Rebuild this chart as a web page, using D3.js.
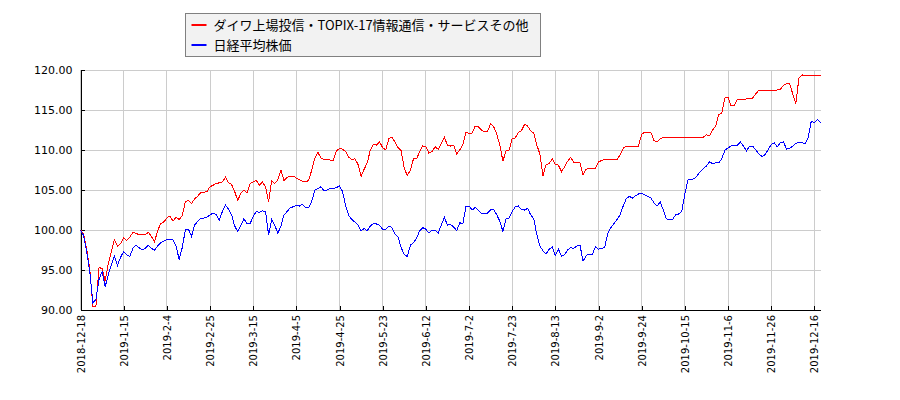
<!DOCTYPE html>
<html>
<head>
  <meta charset='utf-8'>
  <title>ダイワ上場投信・TOPIX-17情報通信・サービスその他 vs 日経平均株価</title>
  <script src='https://cdn.jsdelivr.net/npm/d3@7/dist/d3.min.js'></script>
  <style>
    body { margin: 0; background: #ffffff; }
    .tick text { font-family: 'DejaVu Sans', sans-serif; fill: #000000; }
  </style>
</head>
<body>
  <div id='container' style='width: 900px; height: 400px'>
    <svg id='plot-area'></svg>
  </div>
  <script>
    // series names
    const seriesNames = ['ダイワ上場投信・TOPIX-17情報通信・サービスその他', '日経平均株価'];
    const seriesColors = ['#ff0000', '#0000ff'];

    // x tick labels, one every 14 trading days
    const tickLabels = ['2018-12-18', '2019-1-15', '2019-2-4', '2019-2-25', '2019-3-15',
        '2019-4-5', '2019-4-25', '2019-5-23', '2019-6-12', '2019-7-2', '2019-7-23',
        '2019-8-13', '2019-9-2', '2019-9-24', '2019-10-15', '2019-11-6', '2019-11-26',
        '2019-12-16'];
    const tickStep = 14;

    const yTicks = [90, 95, 100, 105, 110, 115, 120];

    // ETF, relative to first day = 100
    const etfValues = [
        100, 99.5, 97.6, 95.2, 90.5, 90.5, 95.3, 95.2, 93.6, 95.8,
        97.3, 98.8, 98.0, 98.3, 99.0, 98.7, 99.1, 99.7, 99.6, 99.4,
        99.4, 99.4, 99.7, 99.2, 98.5, 99.9, 100.8, 101.0, 101.5, 101.75,
        101.1, 101.6, 101.3, 101.8, 103.5, 103.7, 103.3, 103.9, 104.2, 104.7,
        104.7, 104.8, 105.4, 105.6, 105.8, 105.9, 106.0, 106.6, 105.9, 105.7,
        104.8, 103.7, 104.6, 105.0, 104.6, 105.8, 106.0, 106.2, 105.6, 106.0,
        105.4, 103.5, 106.2, 105.8, 106.25, 107.5, 106.2, 106.6, 106.7, 106.75,
        106.5, 106.3, 106.1, 106.0, 106.2, 107.5, 109.0, 109.7, 109.0, 108.8,
        108.8, 108.75, 108.75, 109.9, 110.2, 110.1, 109.8, 109.1, 108.8, 108.9,
        108.2, 106.7, 107.6, 108.4, 110.0, 110.7, 110.6, 111.0, 110.3, 110.0,
        111.4, 111.6, 111.0, 110.3, 109.9, 107.7, 106.8, 107.5, 108.9, 108.9,
        109.8, 110.5, 110.4, 109.6, 109.8, 110.4, 110.1, 110.8, 111.6, 110.6,
        110.5, 110.6, 109.5, 110.0, 110.7, 112.2, 112.1, 112.1, 113.0, 112.9,
        112.5, 112.3, 112.3, 113.3, 112.9, 112.0, 110.6, 108.6, 109.9, 110.0,
        111.4, 111.5, 112.2, 112.4, 113.2, 113.0, 112.4, 112.1, 110.6, 109.5,
        106.8, 108.2, 108.3, 108.9, 108.2, 108.1, 107.3, 107.9, 108.6, 109.1,
        108.4, 108.4, 108.4, 106.9, 107.6, 107.7, 107.7, 107.7, 108.5, 108.7,
        108.8, 108.8, 108.8, 108.8, 108.8, 109.4, 110.2, 110.5, 110.5, 110.5,
        110.5, 110.5, 112.0, 112.2, 112.2, 112.2, 111.2, 111.0, 111.4, 111.6,
        111.6, 111.6, 111.6, 111.6, 111.6, 111.6, 111.6, 111.6, 111.6, 111.6,
        111.6, 111.6, 111.6, 111.9, 111.8, 112.5, 113.0, 114.4, 114.6, 116.5,
        116.6, 115.5, 115.6, 116.3, 116.3, 116.3, 116.4, 116.5, 116.5, 117.0,
        117.5, 117.5, 117.5, 117.5, 117.5, 117.5, 117.5, 117.6, 118.1, 118.3,
        118.3, 117.0, 115.8, 119.0, 119.4, 119.25, 119.3, 119.3, 119.3, 119.3,
        119.3
    ];

    // Nikkei 225, relative to first day = 100
    const nikkeiValues = [
        100, 99.3, 97.3, 94.8, 90.9, 91.3, 93.8, 94.8, 92.9, 94.4,
        95.6, 96.7, 95.6, 96.6, 97.3, 96.9, 96.7, 97.7, 98.1, 97.8,
        97.5, 97.7, 98.1, 97.7, 97.5, 98.0, 98.4, 98.6, 98.8, 98.8,
        98.75, 98.0, 96.3, 97.8, 100.0, 100.1, 99.2, 100.6, 101.1, 101.5,
        101.5, 101.6, 101.9, 102.1, 101.9, 101.25, 102.3, 103.1, 102.6, 101.9,
        100.5, 99.8, 100.6, 101.4, 100.8, 100.8, 101.7, 102.3, 102.2, 102.4,
        102.3, 99.4, 101.3, 100.6, 99.6, 100.5, 101.9, 102.3, 102.8, 102.9,
        103.1, 103.0, 103.2, 102.8, 102.8, 103.6, 105.0, 105.2, 105.4, 104.9,
        105.0, 105.25, 105.2, 105.3, 105.5, 104.8, 103.0, 101.8, 101.3, 101.0,
        100.6, 99.9, 100.2, 99.9, 100.5, 100.8, 100.75, 100.6, 100.1, 100.1,
        100.5, 100.3, 99.5, 99.1, 97.8, 96.9, 96.7, 98.1, 98.4, 99.0,
        99.9, 100.3, 100.1, 99.6, 100.0, 100.0, 99.6, 100.6, 101.6, 100.6,
        100.7, 100.4, 99.9, 100.9, 100.8, 102.9, 103.0, 102.5, 102.8, 102.5,
        102.1, 102.0, 102.1, 102.5, 102.6, 101.9, 101.1, 99.8, 101.4, 101.5,
        102.3, 102.9, 103.0, 102.6, 102.5, 102.7, 101.9, 101.4, 99.4, 98.0,
        97.4, 97.0, 97.6, 97.9, 96.8, 97.6, 96.7, 96.9, 97.5, 97.8,
        97.7, 98.0, 98.1, 96.1, 96.8, 97.0, 96.9, 97.9, 97.6, 97.7,
        97.8, 99.6, 100.3, 100.8, 101.3, 101.9, 103.0, 103.9, 104.2, 104.0,
        104.3, 104.5, 104.6, 104.4, 104.2, 104.0, 103.4, 103.0, 103.5, 102.5,
        101.4, 101.3, 101.3, 101.9, 102.0, 102.3, 104.5, 106.25, 106.3, 106.4,
        106.8, 107.3, 107.7, 108.0, 108.5, 108.3, 108.4, 108.4, 108.9, 110.0,
        110.25, 110.5, 110.6, 110.6, 111.0, 110.5, 109.9, 110.5, 110.5, 110.0,
        109.5, 109.2, 109.4, 110.0, 110.7, 110.9, 110.4, 110.9, 111.0, 110.1,
        110.2, 110.5, 110.8, 111.0, 110.9, 110.8, 111.5, 113.6, 113.4, 113.8,
        113.4
    ];

    const margin = {
        top: 70,
        right: 79.5,
        bottom: 90,
        left: 80.5
    };
    const svg = d3.select('#plot-area')
        .attr('width', 900)
        .attr('height', 400);
    const width = 900 - (margin.left + margin.right);
    const height = 400 - (margin.top + margin.bottom);
    const g = svg.append('g')
        .attr('transform', `translate(${margin.left}, ${margin.top})`);

    const scaleX = d3.scaleLinear()
        .domain([0, etfValues.length - 1])
        .range([0, width]);
    const scaleY = d3.scaleLinear()
        .domain([90, 120])
        .range([height, 0]);
    const tickIndex = tickLabels.map((d, i) => i * tickStep);

    // grid
    g.append('g')
        .selectAll('line')
        .data(tickIndex)
        .join('line')
        .attr('x1', (d) => scaleX(d))
        .attr('x2', (d) => scaleX(d))
        .attr('y1', 0)
        .attr('y2', height)
        .attr('stroke', '#cccccc')
        .attr('stroke-width', 1)
        .attr('shape-rendering', 'crispEdges');
    g.append('g')
        .selectAll('line')
        .data(yTicks)
        .join('line')
        .attr('x1', 0)
        .attr('x2', width)
        .attr('y1', (d) => scaleY(d))
        .attr('y2', (d) => scaleY(d))
        .attr('stroke', '#cccccc')
        .attr('stroke-width', 1)
        .attr('shape-rendering', 'crispEdges');

    // axes
    const axisX = d3.axisBottom(scaleX)
        .tickValues(tickIndex)
        .tickFormat((d, i) => tickLabels[i])
        .tickSizeInner(-4)
        .tickSizeOuter(0)
        .tickPadding(5);
    g.append('g')
        .attr('transform', `translate(0, ${height})`)
        .call(axisX)
        .call((a) => a.selectAll('text')
            .attr('font-size', 10)
            .attr('text-anchor', 'end')
            .attr('transform', 'rotate(-90)')
            .attr('x', -5)
            .attr('y', 0)
            .attr('dy', '0.35em'));

    const axisY = d3.axisLeft(scaleY)
        .tickValues(yTicks)
        .tickFormat(d3.format('.2f'))
        .tickSizeInner(-4)
        .tickSizeOuter(0)
        .tickPadding(8);
    g.append('g')
        .call(axisY)
        .call((a) => a.selectAll('text').attr('font-size', 11));

    svg.selectAll('.domain, .tick line')
        .attr('stroke', '#000000')
        .attr('shape-rendering', 'crispEdges');

    // lines
    const line = d3.line()
        .x((d, i) => scaleX(i))
        .y((d) => scaleY(d));
    [etfValues, nikkeiValues].forEach((values, k) => {
        g.append('path')
            .datum(values)
            .attr('fill', 'none')
            .attr('stroke', seriesColors[k])
            .attr('stroke-width', 1)
            .attr('shape-rendering', 'crispEdges')
            .attr('d', line);
    });

    // legend
    const legend = svg.append('g')
        .attr('transform', 'translate(185.5, 13.5)');
    legend.append('rect')
        .attr('width', 355)
        .attr('height', 43)
        .attr('fill', '#f2f2f2')
        .attr('stroke', '#808080');
    const rows = legend.selectAll('g.row')
        .data(seriesNames)
        .join('g')
        .attr('class', 'row')
        .attr('transform', (d, i) => `translate(0, ${11.5 + i * 20})`);
    rows.append('line')
        .attr('x1', 6)
        .attr('x2', 21)
        .attr('stroke', (d, i) => seriesColors[i])
        .attr('stroke-width', 2);
    rows.append('text')
        .attr('x', 28)
        .attr('dy', '0.35em')
        .attr('font-family', "'Noto Sans CJK JP', sans-serif")
        .attr('font-size', 13)
        .attr('fill', '#000000')
        .text((d) => d);
  </script>
</body>
</html>
